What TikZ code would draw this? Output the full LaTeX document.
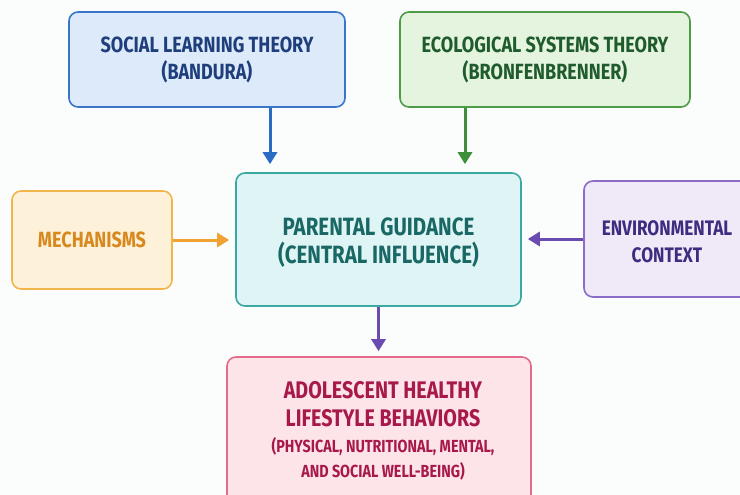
\documentclass[tikz,border=0pt]{standalone}
\usepackage{fontspec}
\usetikzlibrary{arrows.meta}
\newfontfamily\boxfont{Fira Sans}[FakeStretch=0.82]
\definecolor{bgcol}{HTML}{FBFCFC}
\definecolor{bluefill}{HTML}{DDEAF9}
\definecolor{blueline}{HTML}{3A76C8}
\definecolor{bluetext}{HTML}{1F3E7C}
\definecolor{bluearrow}{HTML}{2A6CC4}
\definecolor{greenfill}{HTML}{E4F4DE}
\definecolor{greenline}{HTML}{4E9C47}
\definecolor{greentext}{HTML}{1F5B2C}
\definecolor{greenarrow}{HTML}{3D8F3A}
\definecolor{tealfill}{HTML}{DFF4F5}
\definecolor{tealline}{HTML}{3AA9A4}
\definecolor{tealtext}{HTML}{1A6865}
\definecolor{orangefill}{HTML}{FDF1D9}
\definecolor{orangeline}{HTML}{F1B64A}
\definecolor{orangetext}{HTML}{D8891E}
\definecolor{orangearrow}{HTML}{F0A232}
\definecolor{purplefill}{HTML}{F0EAF8}
\definecolor{purpleline}{HTML}{8B6DC9}
\definecolor{purpletext}{HTML}{3F2B80}
\definecolor{purplearrow}{HTML}{6A4BB0}
\definecolor{pinkfill}{HTML}{FDE4E9}
\definecolor{pinkline}{HTML}{E26C89}
\definecolor{pinktext}{HTML}{A8194B}
\tikzset{
  theorybox/.style={draw, line width=1.6pt, rounded corners=9pt, align=center,
    font=\boxfont\bfseries\fontsize{22}{27}\selectfont, inner sep=0pt},
  boxtext/.style={align=center, inner sep=0pt},
  link/.style={line width=3pt, -{Triangle[length=12pt,width=14pt]}}
}

\begin{document}
\begin{tikzpicture}[x=1pt,y=-1pt]
    \fill[bgcol] (0,0) rectangle (740,495);
    \useasboundingbox (0,0) rectangle (740,495);
    \clip (0,0) rectangle (740,495);
    % two theories on top
    \node[theorybox, fill=bluefill, draw=blueline, text=bluetext,
      minimum width=276pt, minimum height=95pt] (social) at (207,59.5)
      {SOCIAL LEARNING THEORY\\(BANDURA)};
    \node[theorybox, fill=greenfill, draw=greenline, text=greentext,
      minimum width=290pt, minimum height=95pt] (ecology) at (545,59.5)
      {ECOLOGICAL SYSTEMS THEORY\\(BRONFENBRENNER)};
    % the middle row
    \node[theorybox, fill=tealfill, draw=tealline,
      minimum width=285pt, minimum height=133pt,
      label={[boxtext, text=tealtext, yshift=-3pt,
        font=\boxfont\bfseries\fontsize{25}{28}\selectfont]center:PARENTAL GUIDANCE\\(CENTRAL INFLUENCE)}]
      (guidance) at (378.5,239.5) {};
    \node[theorybox, fill=orangefill, draw=orangeline, text=orangetext,
      minimum width=160pt, minimum height=98pt] (mechanisms) at (92,240)
      {MECHANISMS};
    \node[theorybox, fill=purplefill, draw=purpleline,
      minimum width=180pt, minimum height=116pt,
      label={[boxtext, text=purpletext, xshift=-7pt, yshift=-3pt,
        font=\boxfont\bfseries\fontsize{21}{27}\selectfont]center:ENVIRONMENTAL\\CONTEXT}]
      (context) at (674,239) {};
    % outcome
    \node[theorybox, fill=pinkfill, draw=pinkline,
      minimum width=304pt, minimum height=160pt] (outcome) at (379,437) {};
    \node[boxtext, text=pinktext, font=\boxfont\bfseries\fontsize{24}{28}\selectfont]
      (outcometitle) at (383,404) {ADOLESCENT HEALTHY\\LIFESTYLE BEHAVIORS};
    \node[boxtext, text=pinktext, font=\boxfont\bfseries\fontsize{17.5}{25}\selectfont]
      (outcomesub) at (383,459) {(PHYSICAL, NUTRITIONAL, MENTAL,\\AND SOCIAL WELL-BEING)};
    % arrows
    \draw[link, bluearrow, shorten >=8pt] ([xshift=63pt]social.south)
      -- ([xshift=63pt]social.south |- guidance.north);
    \draw[link, greenarrow, shorten >=8pt] ([xshift=-80pt]ecology.south)
      -- ([xshift=-80pt]ecology.south |- guidance.north);
    \draw[link, orangearrow, shorten >=6pt] (mechanisms.east) -- (mechanisms.east -| guidance.west);
    \draw[link, purplearrow, shorten >=6pt] (context.west) -- (context.west -| guidance.east);
    \draw[link, purplearrow, shorten >=5pt] (guidance.south) -- (guidance.south |- outcome.north);
  \end{tikzpicture}
\end{document}
